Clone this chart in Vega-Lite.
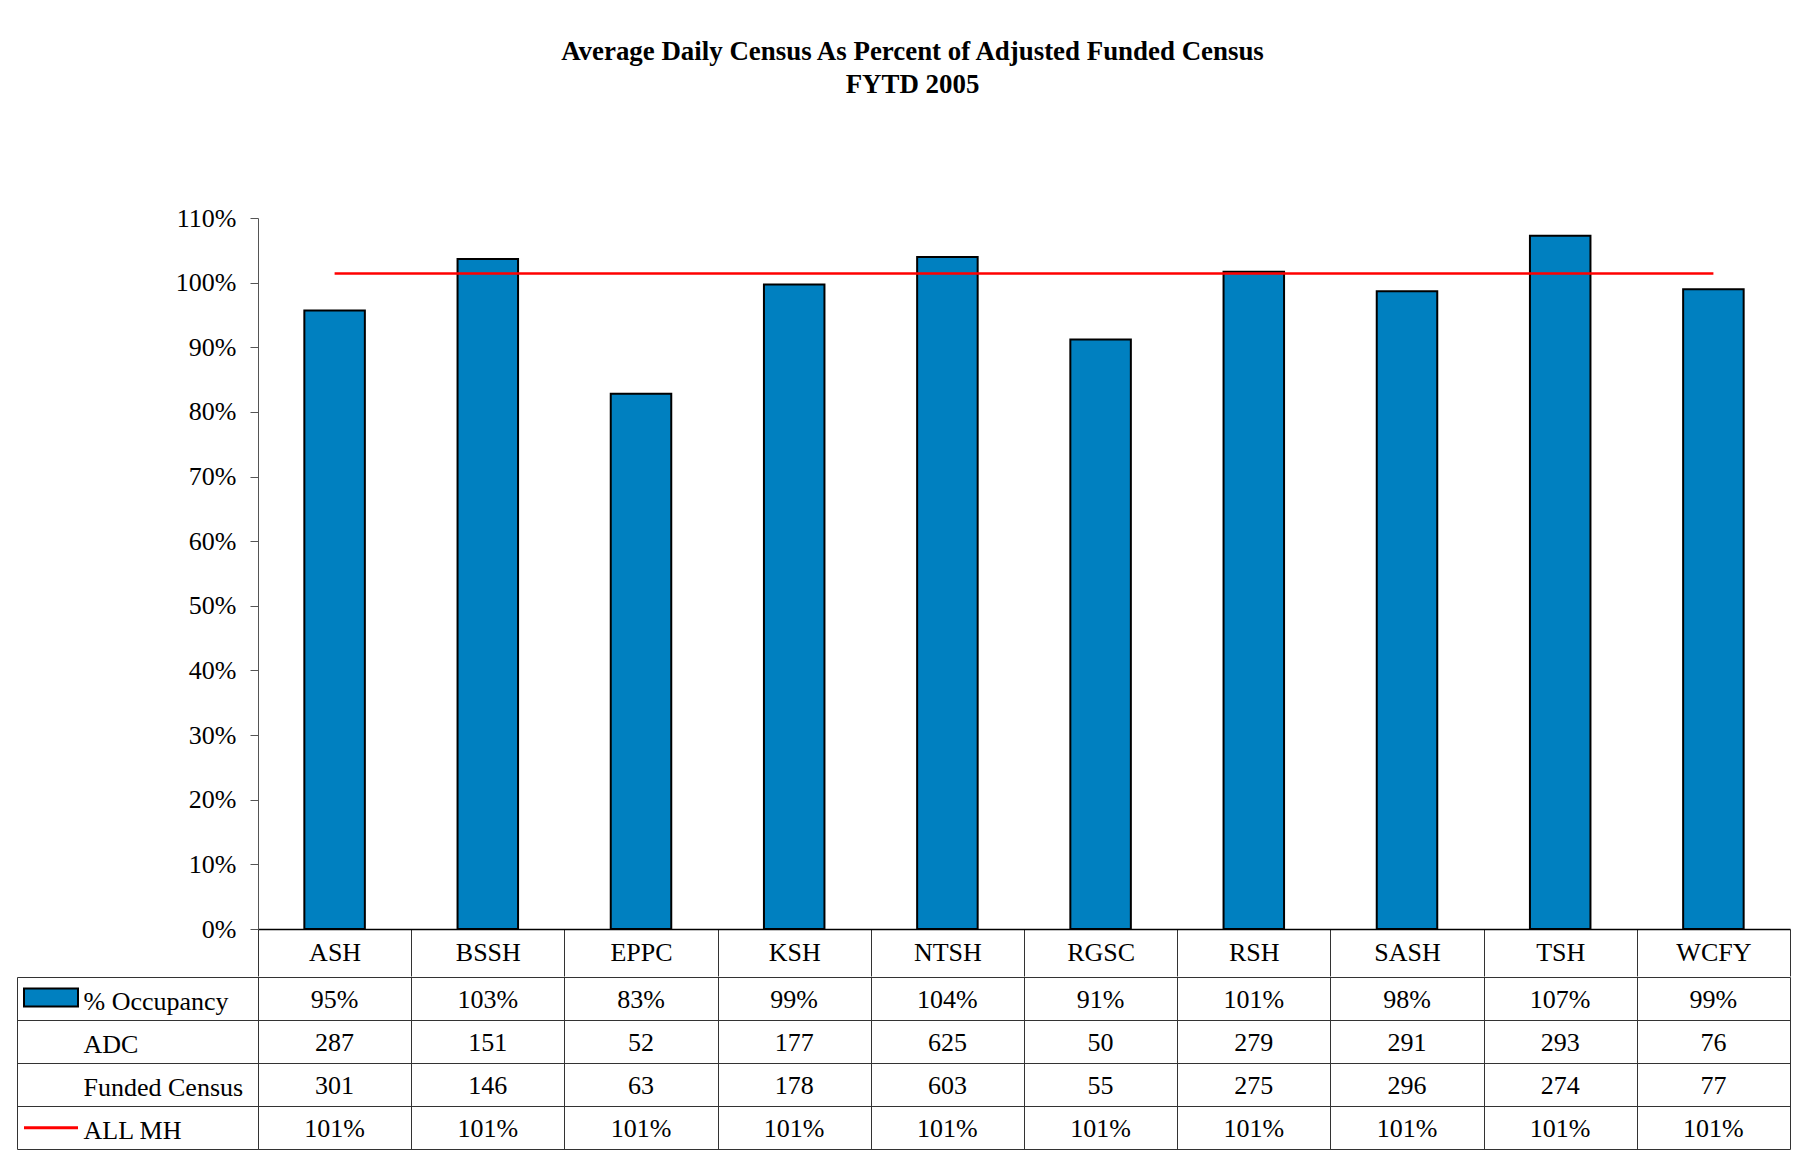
{
  "$schema": "https://vega.github.io/schema/vega-lite/v6.json",
  "padding": {"left": 16, "top": 37, "right": 15, "bottom": 6},
  "background": "white",
  "config": {
    "font": "Liberation Serif",
    "view": {"stroke": null},
    "axis": {"labelFont": "Liberation Serif", "labelColor": "black", "labelFontSize": 26, "titleFont": "Liberation Serif"},
    "legend": {"labelFont": "Liberation Serif"}
  },
  "title": {
    "text": ["Average Daily Census As Percent of Adjusted Funded Census", "FYTD 2005"],
    "font": "Liberation Serif",
    "fontSize": 26.9,
    "fontWeight": "bold",
    "color": "black",
    "lineHeight": 33.3,
    "anchor": "middle",
    "dx": 9,
    "offset": 106
  },
  "data": {
    "values": [
      {"site": "ASH", "occupancy": 0.957, "allMH": 1.014, "% Occupancy": "95%", "ADC": 287, "Funded Census": 301, "ALL MH": "101%"},
      {"site": "BSSH", "occupancy": 1.0365, "allMH": 1.014, "% Occupancy": "103%", "ADC": 151, "Funded Census": 146, "ALL MH": "101%"},
      {"site": "EPPC", "occupancy": 0.828, "allMH": 1.014, "% Occupancy": "83%", "ADC": 52, "Funded Census": 63, "ALL MH": "101%"},
      {"site": "KSH", "occupancy": 0.997, "allMH": 1.014, "% Occupancy": "99%", "ADC": 177, "Funded Census": 178, "ALL MH": "101%"},
      {"site": "NTSH", "occupancy": 1.0396, "allMH": 1.014, "% Occupancy": "104%", "ADC": 625, "Funded Census": 603, "ALL MH": "101%"},
      {"site": "RGSC", "occupancy": 0.912, "allMH": 1.014, "% Occupancy": "91%", "ADC": 50, "Funded Census": 55, "ALL MH": "101%"},
      {"site": "RSH", "occupancy": 1.017, "allMH": 1.014, "% Occupancy": "101%", "ADC": 279, "Funded Census": 275, "ALL MH": "101%"},
      {"site": "SASH", "occupancy": 0.9865, "allMH": 1.014, "% Occupancy": "98%", "ADC": 291, "Funded Census": 296, "ALL MH": "101%"},
      {"site": "TSH", "occupancy": 1.0726, "allMH": 1.014, "% Occupancy": "107%", "ADC": 293, "Funded Census": 274, "ALL MH": "101%"},
      {"site": "WCFY", "occupancy": 0.9896, "allMH": 1.014, "% Occupancy": "99%", "ADC": 76, "Funded Census": 77, "ALL MH": "101%"}
    ]
  },
  "spacing": -22,
  "vconcat": [
    {
      "width": 1532,
      "height": 711,
      "encoding": {
        "x": {
          "field": "site", "type": "nominal", "sort": null,
          "scale": {"paddingInner": 0, "paddingOuter": 0},
          "axis": {
            "title": null, "labelAngle": 0, "domainColor": "black", "domainWidth": 1.5,
            "tickBand": "extent", "tickSize": 47, "tickColor": "#333", "tickWidth": 1,
            "labelBaseline": "alphabetic", "labelPadding": -15.3, "grid": false
          }
        }
      },
      "layer": [
        {
          "mark": {"type": "bar", "width": {"band": 0.395}, "stroke": "black", "strokeWidth": 2},
          "encoding": {
            "y": {
              "field": "occupancy", "type": "quantitative",
              "scale": {"domain": [0, 1.1], "nice": false, "zero": true},
              "axis": {
                "title": null, "values": [0, 0.1, 0.2, 0.3, 0.4, 0.5, 0.6, 0.7, 0.8, 0.9, 1.0, 1.1],
                "format": ".0%", "grid": false, "domainColor": "#555", "tickColor": "#555",
                "tickSize": 8, "labelPadding": 14
              }
            },
            "fill": {
              "datum": "% Occupancy",
              "scale": {"range": ["#0080C0"]},
              "legend": {
                "orient": "none", "legendX": -217, "legendY": 769.5, "title": null,
                "labelExpr": "''", "padding": 0,
                "symbolType": "M-3,-1H3V1H-3Z", "symbolSize": 324,
                "symbolStrokeColor": "black", "symbolStrokeWidth": 2, "symbolOpacity": 1
              }
            }
          }
        },
        {
          "mark": {"type": "line", "strokeWidth": 2.5},
          "encoding": {
            "y": {"field": "allMH", "type": "quantitative"},
            "stroke": {
              "datum": "ALL MH",
              "scale": {"range": ["#FF0000"]},
              "legend": {
                "orient": "none", "legendX": -235.5, "legendY": 881.3, "title": null,
                "labelExpr": "''", "padding": 0,
                "symbolType": "stroke", "symbolSize": 2916, "symbolStrokeWidth": 3
              }
            }
          }
        }
      ]
    },
    {
      "width": 1532,
      "height": 172,
      "transform": [
        {"fold": ["% Occupancy", "ADC", "Funded Census", "ALL MH"], "as": ["row", "val"]}
      ],
      "resolve": {"scale": {"y": "independent"}},
      "layer": [
        {
          "mark": {"type": "text", "fontSize": 26, "color": "black", "baseline": "alphabetic", "dy": 9.5},
          "encoding": {
            "x": {
              "field": "site", "type": "nominal", "sort": null,
              "scale": {"paddingInner": 0, "paddingOuter": 0},
              "axis": {
                "title": null, "labels": false, "ticks": false, "domain": false,
                "grid": true, "tickBand": "extent", "gridColor": "#333", "gridOpacity": 1, "gridWidth": 1
              }
            },
            "y": {
              "field": "row", "type": "nominal",
              "sort": ["% Occupancy", "ADC", "Funded Census", "ALL MH"],
              "scale": {"paddingInner": 0, "paddingOuter": 0},
              "axis": {
                "title": null, "grid": true, "tickBand": "extent", "gridColor": "#333", "gridOpacity": 1,
                "tickSize": 241, "tickColor": "#333", "domainColor": "#333",
                "labelAlign": "left", "labelPadding": -66, "labelBaseline": "alphabetic", "labelOffset": 11
              }
            },
            "text": {"field": "val", "type": "nominal"}
          }
        },
        {
          "mark": {"type": "text", "text": "", "opacity": 0},
          "encoding": {
            "y": {
              "field": "row", "type": "nominal",
              "sort": ["% Occupancy", "ADC", "Funded Census", "ALL MH"],
              "scale": {"paddingInner": 0, "paddingOuter": 0},
              "axis": {
                "orient": "left", "offset": 241, "title": null, "labels": false, "ticks": false,
                "grid": false, "domain": true, "domainColor": "#333"
              }
            }
          }
        }
      ]
    }
  ]
}
